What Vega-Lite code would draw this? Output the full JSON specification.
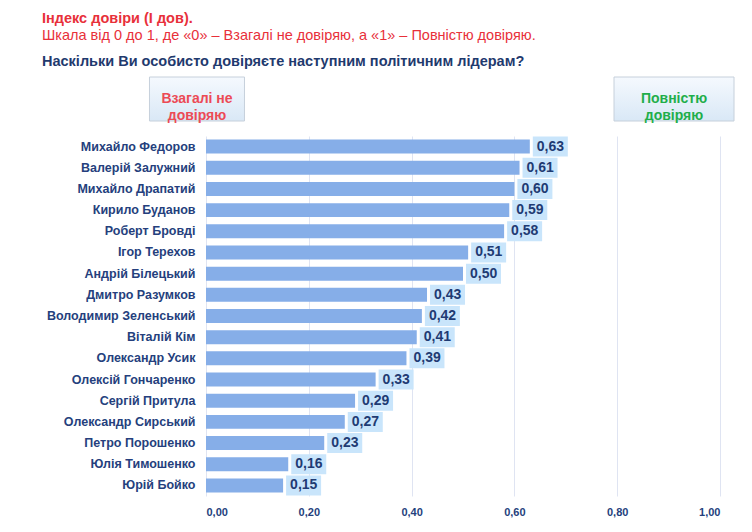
{
  "$schema": "https://vega.github.io/schema/vega-lite/v6.json",
  "background": "white",
  "padding": {"left": 42, "top": 10, "right": 5, "bottom": 5},
  "config": {
    "font": "Liberation Sans",
    "view": {"stroke": null},
    "locale": {"number": {"decimal": ",", "thousands": " ", "grouping": [3], "currency": ["", ""]}}
  },
  "title": {
    "text": "Індекс довіри (І дов).",
    "subtitle": "Шкала від 0 до 1, де «0» – Взагалі не довіряю, а «1» – Повністю довіряю.",
    "anchor": "start",
    "frame": "bounds",
    "color": "#e8303a",
    "subtitleColor": "#e8303a",
    "fontSize": 14.5,
    "subtitleFontSize": 14.5,
    "fontWeight": "bold",
    "subtitleFontWeight": "normal",
    "subtitlePadding": 3,
    "offset": 10
  },
  "bounds": "flush",
  "spacing": 12,
  "resolve": {"scale": {"x": "independent", "color": "independent"}},
  "vconcat": [
    {
      "width": 514,
      "height": 50,
      "title": {
        "text": "Наскільки Ви особисто довіряєте наступним політичним лідерам?",
        "anchor": "start",
        "frame": "group",
        "color": "#1f3a6e",
        "fontSize": 14.5,
        "fontWeight": "bold",
        "dx": -164,
        "offset": 5
      },
      "data": {
        "values": [
          {"label": "Взагалі не\nдовіряю", "end": 0},
          {"label": "Повністю\nдовіряю", "end": 1}
        ]
      },
      "encoding": {
        "x": {"field": "end", "type": "quantitative", "scale": {"domain": [0.0189, 1.0964], "nice": false, "zero": false}, "axis": null}
      },
      "layer": [
        {
          "mark": {
            "type": "point",
            "filled": true,
            "size": 10000,
            "opacity": 1,
            "fill": {
              "gradient": "linear",
              "x1": 0, "y1": 0, "x2": 0, "y2": 1,
              "stops": [
                {"offset": 0, "color": "#f5f9fe"},
                {"offset": 1, "color": "#d9e8f6"}
              ]
            },
            "stroke": "#c6d0db",
            "strokeWidth": 1
          },
          "encoding": {
            "shape": {
              "field": "label",
              "type": "nominal",
              "scale": {
                "domain": ["Взагалі не\nдовіряю", "Повністю\nдовіряю"],
                "range": ["M-0.95,-0.44H0.95V0.44H-0.95Z", "M-1.2,-0.44H1.2V0.44H-1.2Z"]
              },
              "legend": null
            }
          }
        },
        {
          "mark": {"type": "text", "fontSize": 14, "fontWeight": "bold", "lineBreak": "\n", "lineHeight": 17},
          "encoding": {
            "text": {"field": "label"},
            "color": {
              "field": "label",
              "type": "nominal",
              "scale": {"domain": ["Взагалі не\nдовіряю", "Повністю\nдовіряю"], "range": ["#ec4a55", "#1fae4a"]},
              "legend": null
            }
          }
        }
      ]
    },
    {
      "width": 514,
      "height": 360,
      "data": {
        "values": [
          {"name": "Михайло Федоров", "value": 0.63},
          {"name": "Валерій Залужний", "value": 0.61},
          {"name": "Михайло Драпатий", "value": 0.60},
          {"name": "Кирило Буданов", "value": 0.59},
          {"name": "Роберт Бровді", "value": 0.58},
          {"name": "Ігор Терехов", "value": 0.51},
          {"name": "Андрій Білецький", "value": 0.50},
          {"name": "Дмитро Разумков", "value": 0.43},
          {"name": "Володимир Зеленський", "value": 0.42},
          {"name": "Віталій Кім", "value": 0.41},
          {"name": "Олександр Усик", "value": 0.39},
          {"name": "Олексій Гончаренко", "value": 0.33},
          {"name": "Сергій Притула", "value": 0.29},
          {"name": "Олександр Сирський", "value": 0.27},
          {"name": "Петро Порошенко", "value": 0.23},
          {"name": "Юлія Тимошенко", "value": 0.16},
          {"name": "Юрій Бойко", "value": 0.15}
        ]
      },
      "encoding": {
        "y": {
          "field": "name",
          "type": "nominal",
          "sort": null,
          "scale": {"paddingInner": 0.34, "paddingOuter": 0.17},
          "axis": {
            "title": null,
            "domain": false,
            "ticks": false,
            "labelFontSize": 12.5,
            "labelFontWeight": "bold",
            "labelColor": "#253f7d",
            "labelPadding": 11
          }
        },
        "x": {
          "field": "value",
          "type": "quantitative",
          "scale": {"domain": [0, 1]},
          "axis": {
            "title": null,
            "values": [0, 0.2, 0.4, 0.6, 0.8, 1],
            "format": ".2f",
            "domain": false,
            "ticks": false,
            "gridColor": "#dfe4f2",
            "labelFontSize": 11,
            "labelFontWeight": "bold",
            "labelColor": "#253f7d",
            "labelPadding": 10
          }
        }
      },
      "layer": [
        {"mark": {"type": "bar", "color": "#86aee8"}},
        {
          "mark": {
            "type": "point",
            "filled": true,
            "size": 1600,
            "opacity": 1,
            "color": "#c9e5fb",
            "shape": "M0.15,-0.5H1.9V0.5H0.15Z"
          }
        },
        {
          "mark": {"type": "text", "align": "left", "dx": 7, "fontSize": 14, "fontWeight": "bold", "color": "#1f3b73"},
          "encoding": {"text": {"field": "value", "format": ".2f"}}
        }
      ]
    }
  ]
}
